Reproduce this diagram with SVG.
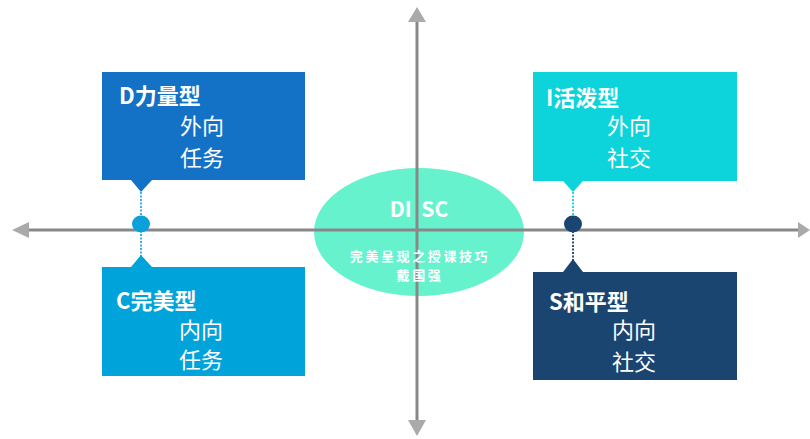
<svg xmlns="http://www.w3.org/2000/svg" width="810" height="439" viewBox="0 0 810 439">
<defs>
<style>
.t{font-family:"Noto Sans CJK SC","Noto Sans",sans-serif;fill:#fff}
.h{font-size:22px;font-weight:bold}
.b{font-size:22px}
.s{font-size:13px;font-weight:bold;letter-spacing:2.6px}
.ax{stroke:#888;stroke-width:3}
.ah{fill:#aaa}
.dot{stroke-width:2;stroke-dasharray:2 1.5;fill:none}
</style>
</defs>
<rect width="810" height="439" fill="#fff"/>
<g id="center">
<ellipse cx="419" cy="232" rx="105" ry="64" fill="#67F2CE"/>
</g>
<g id="connectors">
<line class="ax" x1="26" y1="230" x2="798" y2="230"/>
<polygon class="ah" points="12,230 29,222 29,238"/>
<polygon class="ah" points="810,230 798,222 798,238"/>
<line class="ax" x1="417" y1="20" x2="417" y2="421"/>
<polygon class="ah" points="417,7 408,22 426,22"/>
<polygon class="ah" points="417,436 408,420 426,420"/>
<line class="dot" x1="141" y1="192" x2="141" y2="256" stroke="#3AAEE6"/>
<line class="dot" x1="573" y1="192" x2="573" y2="224" stroke="#2ED3E0"/>
<line class="dot" x1="573" y1="224" x2="573" y2="260" stroke="#2A4F7C"/>
<ellipse cx="141" cy="224" rx="9" ry="8.5" fill="#0AA0DA"/>
<ellipse cx="573" cy="224" rx="9" ry="8.5" fill="#1B4571"/>
</g>
<g id="center-text">
<text class="t" x="419" y="217" text-anchor="middle" font-size="21" font-weight="bold" xml:space="preserve">DI  SC</text>
<text class="t s" x="420" y="261" text-anchor="middle">完美呈现之授课技巧</text>
<text class="t s" x="420" y="280" text-anchor="middle">戴国强</text>
</g>
<g id="D">
<rect x="102" y="72" width="203" height="108" fill="#1372C6"/>
<polygon points="131,180 152,180 141,192" fill="#1372C6"/>
<text class="t h" x="119" y="104">D力量型</text>
<text class="t b" x="180" y="134">外向</text>
<text class="t b" x="180" y="166">任务</text>
</g>
<g id="I">
<rect x="533" y="72" width="204" height="109" fill="#0DD3DB"/>
<polygon points="563,181 583,181 573,192" fill="#0DD3DB"/>
<text class="t h" x="546" y="106">I活泼型</text>
<text class="t b" x="607" y="134">外向</text>
<text class="t b" x="607" y="166">社交</text>
</g>
<g id="C">
<rect x="102" y="267" width="203" height="109" fill="#00A3DA"/>
<polygon points="131,267 152,267 141,255" fill="#00A3DA"/>
<text class="t h" x="116" y="309">C完美型</text>
<text class="t b" x="179" y="338">内向</text>
<text class="t b" x="179" y="368">任务</text>
</g>
<g id="S">
<rect x="533" y="272" width="204" height="108" fill="#1B4571"/>
<polygon points="563,272 583,272 573,259" fill="#1B4571"/>
<text class="t h" x="549" y="310">S和平型</text>
<text class="t b" x="612" y="338">内向</text>
<text class="t b" x="612" y="370">社交</text>
</g>
</svg>
